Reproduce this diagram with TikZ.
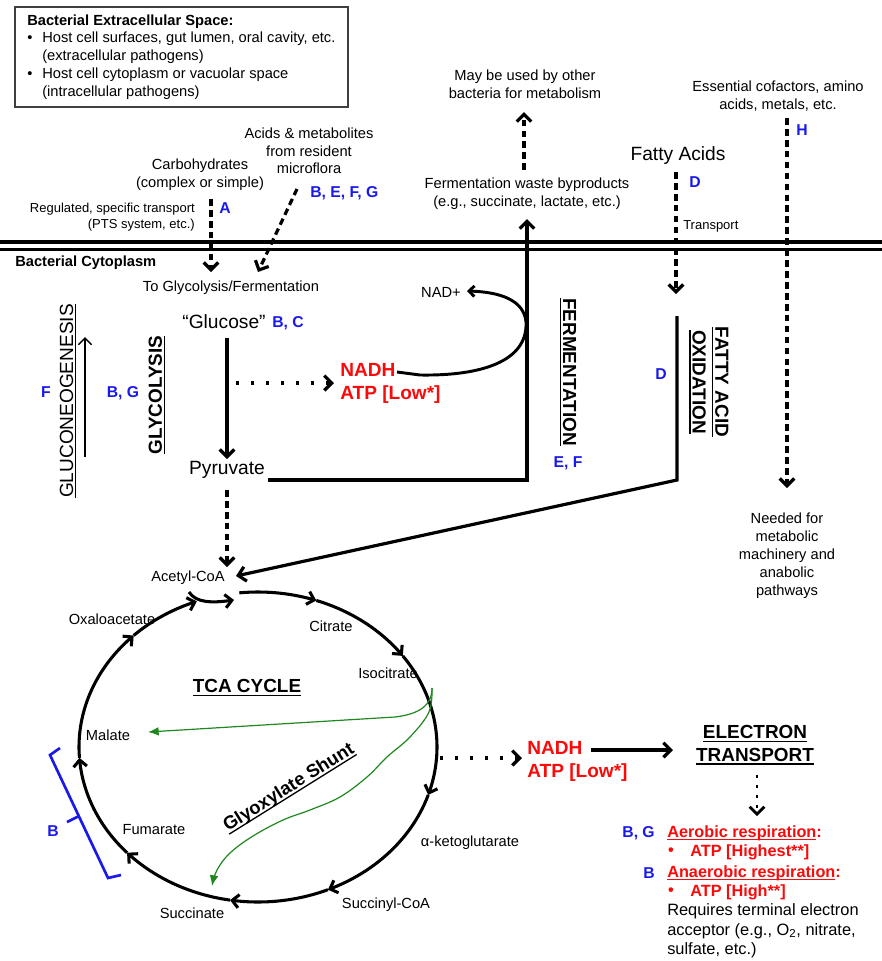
\documentclass[tikz,border=0pt]{standalone}
\usepackage{fontspec}
\setmainfont{Liberation Sans}
\usetikzlibrary{arrows.meta}
\definecolor{myred}{RGB}{250,10,10}
\definecolor{myblue}{RGB}{25,25,235}
\definecolor{mygreen}{RGB}{30,135,30}
\newcommand\myul[1]{\leavevmode\setbox0\hbox{#1}\rlap{\vrule height -1.5pt depth 2.5pt width \wd0}\box0}
\newcommand\myulthin[1]{\leavevmode\setbox0\hbox{#1}\rlap{\vrule height -1.6pt depth 2.3pt width \wd0}\box0}
\begin{document}
\begin{tikzpicture}[x=0.75pt,y=-0.75pt,
  every node/.style={inner sep=0pt},
  lbl/.style={font=\fontsize{11}{13.2}\selectfont, align=center},
  lblsm/.style={font=\fontsize{9.75}{11.5}\selectfont, align=right},
  big/.style={font=\fontsize{14.4}{17}\selectfont},
  redlbl/.style={font=\bfseries\fontsize{14.3}{17.3}\selectfont, text=myred, align=left},
  redsm/.style={font=\bfseries\fontsize{12.2}{14.6}\selectfont, text=myred},
  bl/.style={font=\bfseries\fontsize{11.8}{14}\selectfont, text=myblue},
  head/.style={font=\bfseries\fontsize{14.2}{17}\selectfont, align=center},
  tip/.style={-{Straight Barb[length=5.5pt,width=11pt]}},
  arr/.style={line width=2.4pt, tip},
  dsh/.style={arr, dash pattern=on 5pt off 3.2pt},
  dotarr/.style={line width=2.5pt, dash pattern=on 2.5pt off 8.75pt, tip},
  cyc/.style={line width=2.3pt, -{Straight Barb[length=5pt,width=10pt]}},
  shunt/.style={mygreen, line width=0.9pt, -{Latex[length=8pt,width=6.5pt]}},
]
\useasboundingbox (0,0) rectangle (882,961);

% ---------- extracellular box ----------
\draw[line width=1pt, black!75] (15,7) rectangle (348,107);
\node[anchor=west, font=\bfseries\fontsize{11}{13.2}\selectfont] (boxtitle) at (27,22) {Bacterial Extracellular Space:};
\node[lbl] (bul1) at (30,39) {•};
\node[lbl, anchor=west, align=left] (item1) at (42,48) {Host cell surfaces, gut lumen, oral cavity, etc.\\(extracellular pathogens)};
\node[lbl] (bul2) at (30,75) {•};
\node[lbl, anchor=west, align=left] (item2) at (42,83.5) {Host cell cytoplasm or vacuolar space\\(intracellular pathogens)};

% ---------- membrane ----------
\coordinate (mL1) at (0,242); \coordinate (mR1) at (882,242);
\coordinate (mL2) at (0,249.5); \coordinate (mR2) at (882,249.5);
\draw[line width=2.8pt] (mL1) -- (mR1);
\draw[line width=2.8pt] (mL2) -- (mR2);
\node[anchor=west, font=\bfseries\fontsize{11}{13.2}\selectfont] (cyto) at (15,263) {Bacterial Cytoplasm};

% ---------- inputs ----------
\node[lbl] (carb) at (200,175) {Carbohydrates\\(complex or simple)};
\node[lblsm, anchor=east] (reg) at (195,217) {Regulated, specific transport\\(PTS system, etc.)};
\node[bl] (A) at (225,208) {A};
\node[lbl] (acids) at (309,151) {Acids \& metabolites\\from resident\\microflora};
\node[bl, anchor=west] (BEFG) at (310,193) {B, E, F, G};
\node[lbl] (toglyc) at (231,288) {To Glycolysis/Fermentation};
\coordinate (cA1) at (211,199); \coordinate (cA2) at (211,272);
\coordinate (cB1) at (297,189); \coordinate (cB2) at (258,272);
\draw[dsh] (cA1) -- (cA2);
\draw[dsh] (cB1) -- (cB2);

% ---------- glycolysis ----------
\node[big] (glucose) at (224,322) {“Glucose”};
\node[bl, anchor=west] (BC) at (272,323) {B, C};
\node[big] (pyruvate) at (227,470) {Pyruvate};
\coordinate (g1) at (227,338); \coordinate (g2) at (227,459);
\draw[arr] (g1) -- (g2);
\node[head, rotate=90] (glyc) at (157,395) {\myul{GLYCOLYSIS}};
\node[font=\fontsize{14.3}{17}\selectfont, rotate=90] (gluco) at (68,401) {\myulthin{GLUCONEOGENESIS}};
\coordinate (gn1) at (85,457); \coordinate (gn2) at (85,337);
\draw[line width=1.1pt, -{Straight Barb[length=5pt,width=10pt]}] (gn1) -- (gn2);
\node[bl] (F) at (46,392) {F};
\node[bl] (BG1) at (123,393) {B, G};

\coordinate (d1) at (236,383); \coordinate (d2) at (334,383);
\draw[dotarr] (d1) -- (d2);
\node[redlbl, anchor=west] (nadh1) at (340,383) {NADH\\ATP [Low*]};

% ---------- fermentation ----------
\node[lbl] (nadp) at (441,292) {NAD+};
\coordinate (n0) at (397,372);
\coordinate (n1) at (467,291);
\draw[line width=2.2pt, -{Straight Barb[length=4pt,width=8pt]}] (n0) -- (420,375) .. controls (480,376) and (528,362) .. (526,322) .. controls (524,300) and (500,292) .. (n1);
\coordinate (p1) at (268,480); \coordinate (p2) at (527,480); \coordinate (p3) at (527,219);
\draw[arr] (p1) -- (p2) -- (p3);
\node[lbl] (waste) at (527,194) {Fermentation waste byproducts\\(e.g., succinate, lactate, etc.)};
\coordinate (w1) at (524,170); \coordinate (w2) at (524,112);
\draw[dsh] (w1) -- (w2);
\node[lbl] (maybe) at (525,84) {May be used by other\\bacteria for metabolism};
\node[head, rotate=-90] (ferm) at (568,372) {\myul{FERMENTATION}};
\node[bl] (EF) at (568,463) {E, F};

% ---------- fatty acids ----------
\node[big] (fatty) at (678,156) {Fatty Acids};
\node[bl] (D1) at (695,182) {D};
\node[lblsm, anchor=west] (transp) at (683,226) {Transport};
\coordinate (f1) at (676,172); \coordinate (f2) at (676,294);
\draw[dsh] (f1) -- (f2);
\node[head, rotate=-90] (fao) at (709,382) {\myul{FATTY ACID}\\\myul{OXIDATION}};
\node[bl] (D2) at (661,374) {D};
\coordinate (f3) at (677,316); \coordinate (f4) at (677,480); \coordinate (acin) at (236,576);
\draw[arr] (f3) -- (f4) -- (acin);

% ---------- cofactors ----------
\node[lbl] (ess) at (778,96) {Essential cofactors, amino\\acids, metals, etc.};
\node[bl] (H) at (802,130) {H};
\coordinate (h1) at (787,118); \coordinate (h2) at (787,488);
\draw[dsh] (h1) -- (h2);
\node[font=\fontsize{11}{13.5}\selectfont, align=center] (needed) at (787,556) {Needed for\\metabolic\\machinery and\\anabolic\\pathways};

% ---------- TCA ----------
\node[lbl] (acetyl) at (188,578) {Acetyl-CoA};
\coordinate (pa1) at (227,490); \coordinate (pa2) at (227,567);
\draw[dsh] (pa1) -- (pa2);
\coordinate (ac1) at (189,592); \coordinate (ac2) at (234,600);
\draw[line width=2.3pt, -{Straight Barb[length=5pt,width=10pt]}] (ac1) .. controls (196,603) and (212,603) .. (ac2);

\foreach \a/\b in {-96/-71,-71/-36,-36/18,18/67,67/99,99/137,137/176,176/226,226/250}{
  \draw[cyc] plot[domain=\a:\b, samples=25, smooth] ({258+179*cos(\x)},{747+155*sin(\x)});
}

\node[lbl] (oxalo) at (112,619) {Oxaloacetate};
\node[lbl] (citrate) at (331,626) {Citrate};
\node[lbl] (isocit) at (388,673) {Isocitrate};
\node[lbl] (malate) at (108,735) {Malate};
\node[lbl] (fumarate) at (154,830) {Fumarate};
\node[lbl] (succinate) at (192,913) {Succinate};
\node[lbl] (succoa) at (386,905) {Succinyl-CoA};
\node[lbl] (akg) at (470,843) {α-ketoglutarate};
\node[head] (tca) at (247,688) {\myul{TCA CYCLE}};

% glyoxylate shunt
\coordinate (s0) at (432,688);
\coordinate (sM) at (148,732);
\coordinate (sS) at (212,886);
\draw[shunt] (s0) .. controls (432,705) and (420,714) .. (395,717) -- (sM);
\draw[shunt] plot[smooth, tension=0.6] coordinates {(s0) (429,712) (410,737) (387,757) (367,777) (340,797) (310,810) (283,820) (253,836) (230,853) (217,870) (sS)};
\node[font=\bfseries\fontsize{13.8}{16}\selectfont, rotate=32] (glyox) at (289,788) {\myul{Glyoxylate Shunt}};

% bracket B
\coordinate (br1) at (60,748); \coordinate (br2) at (50,755);
\coordinate (br3) at (108,878); \coordinate (br4) at (121,875);
\coordinate (bt1) at (79,816); \coordinate (bt2) at (67,822);
\draw[myblue, line width=2pt] (br1) -- (br2) -- (br3) -- (br4);
\draw[myblue, line width=2pt] (bt1) -- (bt2);
\node[bl] (Bbr) at (53,831) {B};

% ---------- electron transport ----------
\coordinate (e1) at (440,758); \coordinate (e2) at (522,758);
\draw[dotarr] (e1) -- (e2);
\node[redlbl, anchor=west] (nadh2) at (527,761.5) {NADH\\ATP [Low*]};
\coordinate (e3) at (591,750); \coordinate (e4) at (673,750);
\draw[arr] (e3) -- (e4);
\node[head] (etc) at (755,745) {\myul{ELECTRON}\\\myul{TRANSPORT}};
\coordinate (e5) at (757,775); \coordinate (e6) at (757,816);
\draw[line width=2pt, dash pattern=on 2pt off 5.5pt, tip] (e5) -- (e6);

\node[bl, anchor=east] (BG2) at (655,833) {B, G};
\node[redsm, anchor=west] (aer) at (667,833) {\myulthin{Aerobic respiration}:};
\node[redsm] (bu3) at (671,852) {•};
\node[redsm, anchor=west] (atph) at (690,852) {ATP [Highest**]};
\node[bl, anchor=east] (B3) at (655,873) {B};
\node[redsm, anchor=west] (anaer) at (667,873) {\myulthin{Anaerobic respiration}:};
\node[redsm] (bu4) at (671,892) {•};
\node[redsm, anchor=west] (atph2) at (690,892) {ATP [High**]};
\node[font=\fontsize{12.3}{14.6}\selectfont, align=left, anchor=west] (req) at (667,931) {Requires terminal electron\\acceptor (e.g., O\textsubscript{2}, nitrate,\\sulfate, etc.)};
\end{tikzpicture}
\end{document}
